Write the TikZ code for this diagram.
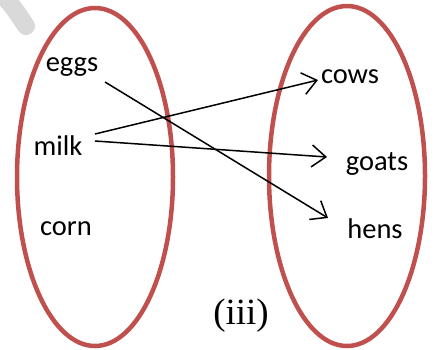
\documentclass[tikz,border=0pt]{standalone}
\usepackage{fontspec}
\setmainfont{Carlito}
\newfontfamily\seriffont{Liberation Serif}
\usetikzlibrary{arrows.meta}
\definecolor{setred}{HTML}{C0504D}
\begin{document}
\begin{tikzpicture}[x=1pt,y=-1pt,
  setoval/.style={draw=setred,line width=4.5pt},
  lbl/.style={inner sep=0pt,font=\fontsize{28.5}{30}\selectfont},
  maparrow/.style={line width=1.5pt,-{Straight Barb[length=14pt,width=22pt,line width=1.5pt]}}]
\useasboundingbox (0,0) rectangle (435,349);
\draw[line width=18pt,color=black!15,line cap=round] (2,-6) .. controls (14,8) .. (26,26);
\draw[setoval] (95,177) ellipse [x radius=78,y radius=169];
\draw[setoval] (347,176) ellipse [x radius=78,y radius=170];
\node[lbl] (eggs) at (72,67) {eggs};
\node[lbl] (milk) at (58,146) {milk};
\node[lbl] (corn) at (66,229) {corn};
\node[lbl] (cows) at (350,77) {cows};
\node[lbl] (goats) at (377,164) {goats};
\node[lbl] (hens) at (375,229) {hens};
\node[inner sep=0pt,font=\seriffont\fontsize{37}{40}\selectfont] (iii) at (241,316) {(iii)};
\coordinate (e0) at (105,82);
\coordinate (m1) at (95,134);
\coordinate (m2) at (95,141);
\coordinate (hT) at (328,218);
\coordinate (cT) at (318,80);
\coordinate (gT) at (327,157);
\draw[maparrow] (e0) -- (hT);
\draw[maparrow] (m1) -- (cT);
\draw[maparrow] (m2) -- (gT);
\end{tikzpicture}
\end{document}
